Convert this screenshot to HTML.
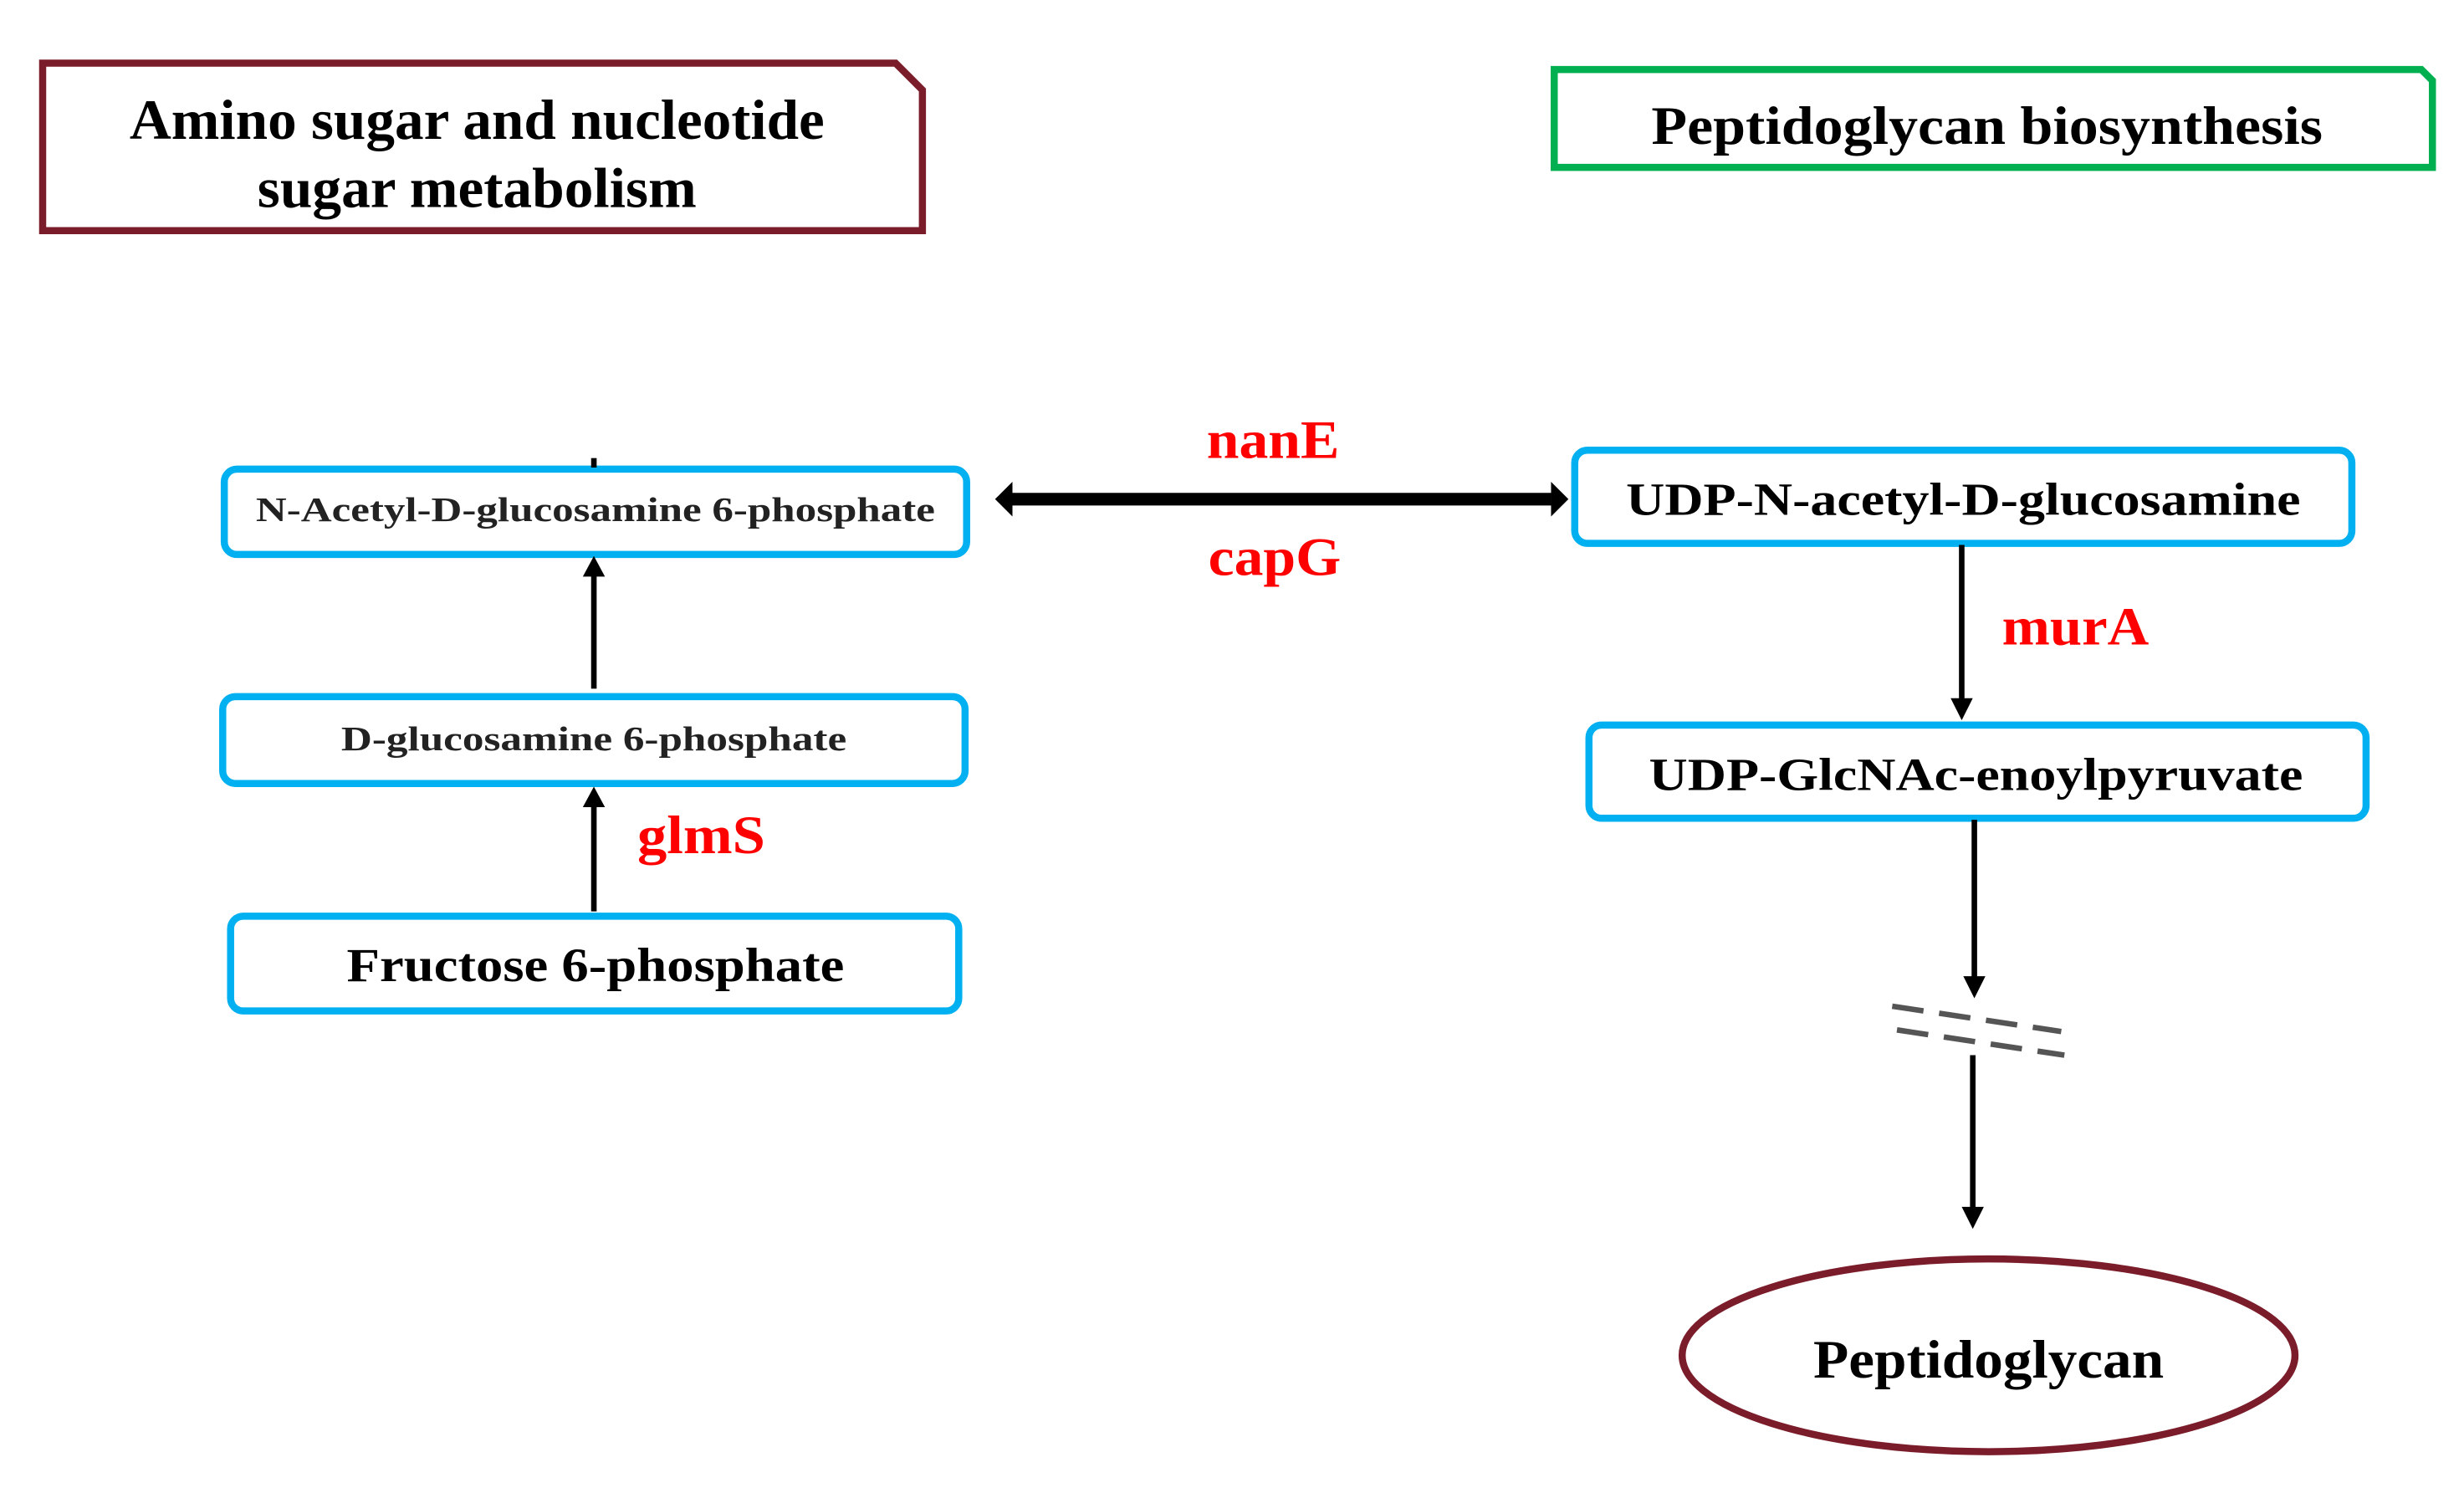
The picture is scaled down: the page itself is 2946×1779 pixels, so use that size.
<!DOCTYPE html>
<html><head><meta charset="utf-8"><style>
html,body{margin:0;padding:0;background:#fff;}
svg{display:block;}
text{font-family:"Liberation Serif",serif;font-weight:bold;}
</style></head><body>
<svg width="2946" height="1779" viewBox="0 0 1560 942" preserveAspectRatio="none" xmlns="http://www.w3.org/2000/svg">
<!-- Maroon title box -->
<path d="M27,40 L567,40 L584,57 L584,146 L27,146 Z" fill="#fff" stroke="#7b1c2a" stroke-width="4.5"/>
<text x="302" y="88" font-size="36" text-anchor="middle" textLength="440" lengthAdjust="spacingAndGlyphs">Amino sugar and nucleotide</text>
<text x="302" y="131" font-size="36" text-anchor="middle" textLength="278" lengthAdjust="spacingAndGlyphs">sugar metabolism</text>
<!-- Green title box -->
<path d="M984,44 L1533,44 L1540,51 L1540,106 L984,106 Z" fill="#fff" stroke="#00b050" stroke-width="4.5"/>
<text x="1258" y="91" font-size="34" text-anchor="middle" textLength="425" lengthAdjust="spacingAndGlyphs">Peptidoglycan biosynthesis</text>
<!-- Blue boxes -->
<g fill="#fff" stroke="#00b0f0" stroke-width="4.5">
<rect x="142" y="297" width="470" height="54" rx="8"/>
<rect x="141" y="441" width="470" height="55" rx="8"/>
<rect x="146" y="580" width="461" height="60" rx="8"/>
<rect x="997" y="285" width="492" height="59" rx="8"/>
<rect x="1006" y="459" width="492" height="59" rx="8"/>
</g>
<text x="377" y="330" font-size="22" fill="#222" text-anchor="middle" textLength="430" lengthAdjust="spacingAndGlyphs">N-Acetyl-D-glucosamine 6-phosphate</text>
<text x="376" y="475" font-size="22" fill="#222" text-anchor="middle" textLength="320" lengthAdjust="spacingAndGlyphs">D-glucosamine 6-phosphate</text>
<text x="377" y="621" font-size="30" text-anchor="middle" textLength="315" lengthAdjust="spacingAndGlyphs">Fructose 6-phosphate</text>
<text x="1243" y="326" font-size="29" text-anchor="middle" textLength="427" lengthAdjust="spacingAndGlyphs">UDP-N-acetyl-D-glucosamine</text>
<text x="1251" y="500" font-size="29" text-anchor="middle" textLength="414" lengthAdjust="spacingAndGlyphs">UDP-GlcNAc-enoylpyruvate</text>
<!-- Left arrows -->
<line x1="376" y1="290" x2="376" y2="296" stroke="#000" stroke-width="3.5"/>
<line x1="376" y1="436" x2="376" y2="362" stroke="#000" stroke-width="3.5"/>
<path d="M369,365 L376,352 L383,365 Z" fill="#000"/>
<line x1="376" y1="577" x2="376" y2="508" stroke="#000" stroke-width="3.5"/>
<path d="M369,511 L376,498 L383,511 Z" fill="#000"/>
<text x="444" y="540" font-size="34" fill="#ff0000" text-anchor="middle" textLength="81" lengthAdjust="spacingAndGlyphs">glmS</text>
<!-- Double arrow -->
<line x1="640" y1="316" x2="982" y2="316" stroke="#000" stroke-width="8"/>
<path d="M630,316 L641,305 L641,327 Z" fill="#000"/>
<path d="M993,316 L982,305 L982,327 Z" fill="#000"/>
<text x="806" y="290" font-size="34" fill="#ff0000" text-anchor="middle" textLength="84" lengthAdjust="spacingAndGlyphs">nanE</text>
<text x="807" y="364" font-size="34" fill="#ff0000" text-anchor="middle" textLength="84" lengthAdjust="spacingAndGlyphs">capG</text>
<!-- Right arrows -->
<line x1="1242" y1="345" x2="1242" y2="444" stroke="#000" stroke-width="3.5"/>
<path d="M1235,442 L1242,456 L1249,442 Z" fill="#000"/>
<text x="1314" y="408" font-size="34" fill="#ff0000" text-anchor="middle" textLength="93" lengthAdjust="spacingAndGlyphs">murA</text>
<line x1="1250" y1="519" x2="1250" y2="620" stroke="#000" stroke-width="3.5"/>
<path d="M1243,618 L1250,632 L1257,618 Z" fill="#000"/>
<g stroke="#555" stroke-width="3.5" stroke-dasharray="20,10">
<line x1="1198" y1="637" x2="1305" y2="653"/>
<line x1="1201" y1="652" x2="1307" y2="668"/>
</g>
<line x1="1249" y1="668" x2="1249" y2="766" stroke="#000" stroke-width="3.5"/>
<path d="M1242,764 L1249,778 L1256,764 Z" fill="#000"/>
<!-- Ellipse -->
<ellipse cx="1259" cy="858" rx="194" ry="61" fill="#fff" stroke="#7b1c2a" stroke-width="4.5"/>
<text x="1259" y="872" font-size="34" text-anchor="middle" textLength="222" lengthAdjust="spacingAndGlyphs">Peptidoglycan</text>
</svg>
</body></html>
